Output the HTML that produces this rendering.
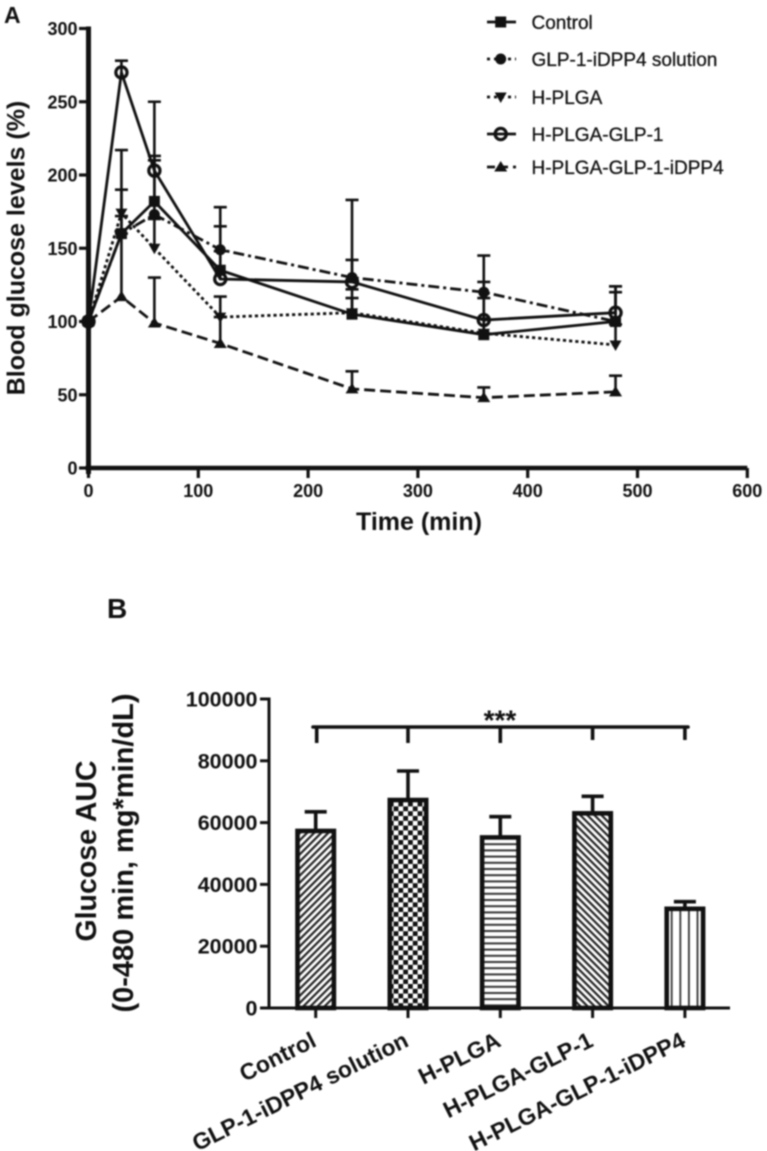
<!DOCTYPE html>
<html lang="en">
<head>
<meta charset="utf-8">
<title>Blood glucose levels and glucose AUC</title>
<style>
html,body{margin:0;padding:0;background:#fff;}
body{width:767px;height:1151px;overflow:hidden;}
#figure{display:block;filter:blur(0.7px);font-family:"Liberation Sans",Arial,sans-serif;}
text{fill:#111;}
</style>
</head>
<body>
<svg id="figure" xmlns="http://www.w3.org/2000/svg" width="767" height="1151" viewBox="0 0 767 1151">
  <defs>
    <pattern id="pat-fwd" patternUnits="userSpaceOnUse" width="5" height="5" patternTransform="rotate(-45)"><rect width="5" height="5" fill="#fff"/><rect width="5" height="2.2" fill="#222"/></pattern>
    <pattern id="pat-check" patternUnits="userSpaceOnUse" width="9.6" height="9.6"><rect width="9.6" height="9.6" fill="#fff"/><rect width="4.8" height="4.8" fill="#111"/><rect x="4.8" y="4.8" width="4.8" height="4.8" fill="#111"/></pattern>
    <pattern id="pat-horiz" patternUnits="userSpaceOnUse" width="6.2" height="6.2"><rect width="6.2" height="6.2" fill="#fff"/><rect width="6.2" height="2" fill="#333"/></pattern>
    <pattern id="pat-back" patternUnits="userSpaceOnUse" width="5" height="5" patternTransform="rotate(45)"><rect width="5" height="5" fill="#fff"/><rect width="5" height="2.2" fill="#222"/></pattern>
    <pattern id="pat-vert" patternUnits="userSpaceOnUse" width="8.6" height="8.6"><rect width="8.6" height="8.6" fill="#fff"/><rect width="1.8" height="8.6" fill="#333"/></pattern>
  </defs>
  <rect width="767" height="1151" fill="#fff"/>
  <text x="4" y="23" font-size="23" font-weight="700">A</text>
  <text x="107" y="618" font-size="28" font-weight="700">B</text>
  <text transform="translate(24.5 248) rotate(-90)" text-anchor="middle" font-size="25" font-weight="700">Blood glucose levels (%)</text>
  <text x="419" y="530" text-anchor="middle" font-size="25" font-weight="700">Time (min)</text>
  <text transform="translate(96 851) rotate(-90)" text-anchor="middle" font-size="28.5" font-weight="700">Glucose AUC</text>
  <text transform="translate(133 853) rotate(-90)" text-anchor="middle" font-size="29" font-weight="700">(0-480 min, mg*min/dL)</text>
  <g id="line-chart"></g>
  <g id="legend"></g>
  <g id="bar-chart"></g>
</svg>
<script>
// Panel A data
var times = [0, 30, 60, 120, 240, 360, 480];
var lineSeriesNames = ['Control', 'GLP-1-iDPP4 solution', 'H-PLGA', 'H-PLGA-GLP-1', 'H-PLGA-GLP-1-iDPP4'];
var controlValues = [100, 160, 182, 135, 105, 91, 100];
var solutionValues = [100, 160, 173, 149, 130, 120, 100];
var plgaValues = [100, 174, 150, 103, 106, 92, 84];
var plgaGlpValues = [100, 270, 203, 129, 127, 101, 106];
var plgaGlpIdppValues = [100, 117, 99, 85, 54, 48, 52];
var controlErrors = [0, 30, 31, 30, 17, 25, 20];
var solutionErrors = [0, 12, 37, 29, 53, 25, 24];
var plgaErrors = [0, 43, 20, 14, 10, 10, 14];
var plgaGlpErrors = [0, 8, 47, 19, 15, 26, 18];
var plgaGlpIdppErrors = [0, 43, 31, 18, 12, 7, 11];
var lineXTicks = [0, 100, 200, 300, 400, 500, 600];
var lineYTicks = [0, 50, 100, 150, 200, 250, 300];

// Panel B data
var barCategories = ['Control', 'GLP-1-iDPP4 solution', 'H-PLGA', 'H-PLGA-GLP-1', 'H-PLGA-GLP-1-iDPP4'];
var barValues = [57300, 67300, 55200, 63000, 32100];
var barErrors = [6200, 9400, 6700, 5500, 2300];
var barYTicks = [0, 20000, 40000, 60000, 80000, 100000];

var NS = 'http://www.w3.org/2000/svg';
function make(parent, tag, attrs, txt) {
  var n = document.createElementNS(NS, tag);
  for (var k in attrs) n.setAttribute(k, attrs[k]);
  if (txt !== undefined) n.textContent = txt;
  parent.appendChild(n);
  return n;
}
function kebab(s) { return s.toLowerCase().replace(/[^a-z0-9]+/g, '-'); }

// Axis functions
function xA(v) { return 88.5 + v * 1.098; }
function yA(v) { return 468 - v * 1.465; }
function yB(v) { return 1008 - v * 0.00309; }
function xB(i) { return 315.7 + i * 92.3; }

var INK = '#111';
var lineStyles = [
  {dash: '', marker: 'square', values: controlValues, errors: controlErrors},
  {dash: '11 4 3 4', marker: 'circle', values: solutionValues, errors: solutionErrors},
  {dash: '3.2 3', marker: 'down', values: plgaValues, errors: plgaErrors},
  {dash: '', marker: 'ring', values: plgaGlpValues, errors: plgaGlpErrors},
  {dash: '11 5', marker: 'up', values: plgaGlpIdppValues, errors: plgaGlpIdppErrors}
];

function drawMarker(parent, kind, cx, cy) {
  var m;
  if (kind === 'square') {
    m = make(parent, 'rect', {x: cx - 5.5, y: cy - 5.5, width: 11, height: 11, fill: INK});
  } else if (kind === 'circle') {
    m = make(parent, 'circle', {cx: cx, cy: cy, r: 5.5, fill: INK});
  } else if (kind === 'ring') {
    m = make(parent, 'circle', {cx: cx, cy: cy, r: 5.6, fill: 'none', stroke: INK, 'stroke-width': 3.2});
  } else if (kind === 'down') {
    m = make(parent, 'polygon', {points: (cx - 6) + ',' + (cy - 4.5) + ' ' + (cx + 6) + ',' + (cy - 4.5) + ' ' + cx + ',' + (cy + 6), fill: INK});
  } else {
    m = make(parent, 'polygon', {points: (cx - 6.5) + ',' + (cy + 4.5) + ' ' + (cx + 6.5) + ',' + (cy + 4.5) + ' ' + cx + ',' + (cy - 6), fill: INK});
  }
  return m;
}

// Panel A drawing
var chartA = document.getElementById('line-chart');
lineStyles.forEach(function (s, si) {
  var name = kebab(lineSeriesNames[si]);
  var g = make(chartA, 'g', {});
  
  
  var pts = times.map(function (t, i) { return xA(t) + ',' + yA(s.values[i]); }).join(' ');
  var line = make(g, 'polyline', {points: pts, fill: 'none', stroke: INK, 'stroke-width': 2.8, 'stroke-dasharray': s.dash});
  
  
  times.forEach(function (t, i) {
    if (s.errors[i] > 0) {
      var top = yA(s.values[i] + s.errors[i]);
      var eb = make(g, 'path', {d: 'M' + xA(t) + ' ' + yA(s.values[i]) + 'V' + top + 'M' + (xA(t) - 6.5) + ' ' + top + 'H' + (xA(t) + 6.5), fill: 'none', stroke: INK, 'stroke-width': 2.6});
      
      
    }
    var mk = drawMarker(g, s.marker, xA(t), yA(s.values[i]));
    
    
  });
});

var axisYA = make(chartA, 'line', {x1: xA(0), x2: xA(0), y1: yA(300) - 2, y2: 474, stroke: INK, 'stroke-width': 5});


var axisXA = make(chartA, 'line', {x1: xA(0) - 3, x2: xA(600), y1: yA(0), y2: yA(0), stroke: INK, 'stroke-width': 4.5});


lineYTicks.forEach(function (v) {
  var t = make(chartA, 'line', {x1: 79, x2: xA(0), y1: yA(v), y2: yA(v), stroke: INK, 'stroke-width': 3.2});
  
  
  var l = make(chartA, 'text', {x: 77.5, y: yA(v) + 6.5, 'text-anchor': 'end', 'font-size': 18, 'font-weight': 700}, String(v));
  
  
});
lineXTicks.forEach(function (v) {
  var t = make(chartA, 'line', {x1: xA(v), x2: xA(v), y1: yA(0), y2: 478, stroke: INK, 'stroke-width': 3.2});
  
  
  var l = make(chartA, 'text', {x: xA(v), y: 497, 'text-anchor': 'middle', 'font-size': 18, 'font-weight': 700}, String(v));
  
  
});

// Legend
var legend = document.getElementById('legend');
var legendRows = [22, 59, 97, 134, 167];
lineStyles.forEach(function (s, i) {
  var g = make(legend, 'g', {});
  
  
  var y = legendRows[i];
  var sw = make(g, 'line', {x1: 487, x2: 516, y1: y, y2: y, stroke: INK, 'stroke-width': 2.8, 'stroke-dasharray': s.dash ? (s.marker === 'up' ? '8 5' : '3 4') : ''});
  
  
  var mk = drawMarker(g, s.marker, 500.7, y);
  
  
  var lb = make(g, 'text', {x: 531.5, y: y + 7, 'font-size': 19, stroke: '#111', 'stroke-width': 0.3}, lineSeriesNames[i]);
  
  
});

// Panel B drawing
var chartB = document.getElementById('bar-chart');
var fills = ['pat-fwd', 'pat-check', 'pat-horiz', 'pat-back', 'pat-vert'];
var bracketDrop = [743, 743, 743, 740, 740];
barValues.forEach(function (v, i) {
  var name = kebab(barCategories[i]);
  var cx = xB(i);
  var top = yB(v);
  var eTop = yB(v + barErrors[i]);
  var eb = make(chartB, 'path', {d: 'M' + cx + ' ' + top + 'V' + eTop + 'M' + (cx - 11) + ' ' + eTop + 'H' + (cx + 11), fill: 'none', stroke: INK, 'stroke-width': 3.6});
  
  
  var r = make(chartB, 'rect', {x: cx - 18.2, y: top, width: 36.4, height: yB(0) - top, fill: 'url(#' + fills[i] + ')', stroke: INK, 'stroke-width': 4.6});
  
  
  var t = make(chartB, 'line', {x1: cx, x2: cx, y1: yB(0), y2: 1018, stroke: INK, 'stroke-width': 3});
  
  
  var lb = make(chartB, 'text', {transform: 'translate(' + (cx + 2) + ' 1045.5) rotate(-26.5)', 'text-anchor': 'end', 'font-size': 23, 'font-weight': 700}, barCategories[i]);
  
  
  var d = make(chartB, 'line', {x1: cx + (i === 0 ? 1 : 0), x2: cx + (i === 0 ? 1 : 0), y1: 727, y2: bracketDrop[i], stroke: INK, 'stroke-width': 3.6});
  
  
});
var axisYB = make(chartB, 'line', {x1: 269, x2: 269, y1: yB(100000) - 1.5, y2: yB(0), stroke: INK, 'stroke-width': 3});


var axisXB = make(chartB, 'line', {x1: 260, x2: 730, y1: yB(0), y2: yB(0), stroke: INK, 'stroke-width': 3});


barYTicks.forEach(function (v) {
  var t = make(chartB, 'line', {x1: 260, x2: 269, y1: yB(v), y2: yB(v), stroke: INK, 'stroke-width': 3});
  
  
  var l = make(chartB, 'text', {x: 257.5, y: yB(v) + 7.5, 'text-anchor': 'end', 'font-size': 21.5, 'font-weight': 700}, String(v));
  
  
});
var bracket = make(chartB, 'line', {x1: 313, x2: 688, y1: 727, y2: 727, stroke: INK, 'stroke-width': 3.6, 'stroke-linecap': 'round'});


var stars = make(chartB, 'text', {x: 500, y: 729.5, 'text-anchor': 'middle', 'font-size': 28, 'font-weight': 700}, '***');


</script>
</body>
</html>
